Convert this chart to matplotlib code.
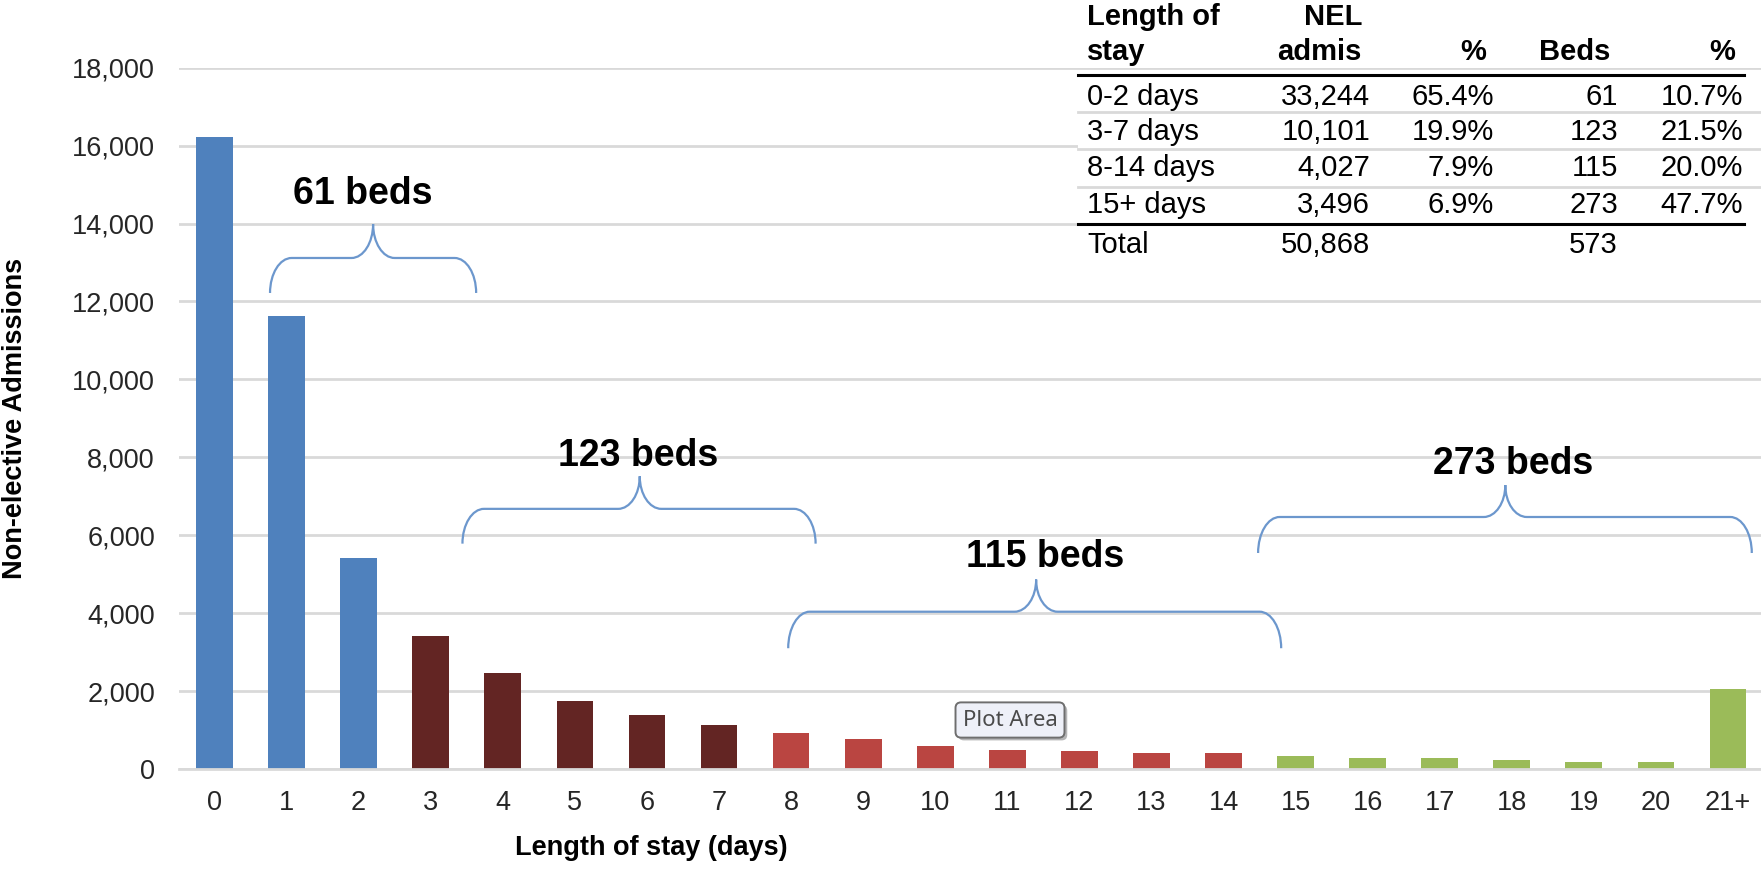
import numpy as np
import matplotlib.pyplot as plt
from matplotlib.path import Path
from matplotlib.patches import PathPatch, Rectangle
from matplotlib.lines import Line2D
import matplotlib.patheffects as pe
from matplotlib.ticker import FuncFormatter

plt.rcParams['font.family'] = ['Liberation Sans', 'DejaVu Sans']

# data
days = ['0', '1', '2', '3', '4', '5', '6', '7', '8', '9', '10',
        '11', '12', '13', '14', '15', '16', '17', '18', '19', '20', '21+']
admissions = [16212, 11624, 5408, 3420, 2459, 1740, 1394, 1134, 920, 760, 600,
              495, 450, 400, 400, 325, 275, 270, 220, 180, 176, 2050]
group_of_day = [0, 0, 0, 1, 1, 1, 1, 1, 2, 2, 2, 2, 2, 2, 2, 3, 3, 3, 3, 3, 3, 3]

los_groups = ['0-2 days', '3-7 days', '8-14 days', '15+ days']
nel_admis = ['33,244', '10,101', '4,027', '3,496']
nel_pct = ['65.4%', '19.9%', '7.9%', '6.9%']
beds = ['61', '123', '115', '273']
beds_pct = ['10.7%', '21.5%', '20.0%', '47.7%']
total_admis = '50,868'
total_beds = '573'

bed_labels = ['61 beds', '123 beds', '115 beds', '273 beds']

# styles
group_colors = ['#4F81BD', '#632523', '#BA4541', '#9BBB59']
brace_color = '#6C97CD'
grid_color = '#D9D9D9'

W, H = 1761, 871
fig = plt.figure(figsize=(W / 100, H / 100), dpi=100)


def px(x, y):
    # pixel position -> figure fraction
    return x / W, 1 - y / H


ax_left, ax_bottom = px(178.5, 769)
ax = fig.add_axes([ax_left, ax_bottom, 1 - ax_left, (769 - 67.7) / H])

x = np.arange(len(days))
colors = [group_colors[g] for g in group_of_day]
ax.bar(x, admissions, width=0.51, color=colors, zorder=2)

ax.set_xlim(-0.5, -0.5 + (W - 178.5) / 72.07)
ax.set_ylim(0, 18000)
ax.set_yticks(np.arange(0, 18001, 2000))
ax.yaxis.set_major_formatter(FuncFormatter(lambda v, p: f'{int(v):,}'))
ax.set_xticks(x)
ax.set_xticklabels(days)
ax.tick_params(axis='both', length=0, labelsize=19.5, labelcolor='#262626')
ax.tick_params(axis='x', pad=15)
ax.tick_params(axis='y', pad=17)
ax.grid(axis='y', color=grid_color, lw=2, zorder=0)
ax.set_axisbelow(True)
for s in ['top', 'right', 'left']:
    ax.spines[s].set_visible(False)
ax.spines['bottom'].set_color(grid_color)
ax.spines['bottom'].set_linewidth(2)

fig.text(*px(651, 848), 'Length of stay (days)', ha='center', va='center',
         fontsize=19.5, fontweight='bold')
fig.text(*px(15, 418), 'Non-elective Admissions', ha='center', va='center',
         rotation=90, fontsize=19.5, fontweight='bold')


def brace(x0, x1, xt, y_end, y_bar, y_tip, rx=0.3):
    k = 0.552
    verts = [
        (x0, y_end),
        (x0, y_end + k * (y_bar - y_end)), (x0 + rx * (1 - k), y_bar), (x0 + rx, y_bar),
        (xt - rx, y_bar),
        (xt - rx * (1 - k), y_bar), (xt, y_tip - k * (y_tip - y_bar)), (xt, y_tip),
        (xt, y_tip - k * (y_tip - y_bar)), (xt + rx * (1 - k), y_bar), (xt + rx, y_bar),
        (x1 - rx, y_bar),
        (x1 - rx * (1 - k), y_bar), (x1, y_end + k * (y_bar - y_end)), (x1, y_end),
    ]
    codes = [Path.MOVETO, Path.CURVE4, Path.CURVE4, Path.CURVE4, Path.LINETO,
             Path.CURVE4, Path.CURVE4, Path.CURVE4, Path.CURVE4, Path.CURVE4,
             Path.CURVE4, Path.LINETO, Path.CURVE4, Path.CURVE4, Path.CURVE4]
    ax.add_patch(PathPatch(Path(verts, codes), fill=False, ec=brace_color,
                           lw=1.6, zorder=3, clip_on=False))


brace(0.77, 3.63, 2.20, 12218, 13116, 13988)
brace(3.44, 8.34, 5.90, 5784, 6677, 7514)
brace(7.96, 14.80, 11.40, 3100, 4037, 4863)
brace(14.48, 21.33, 17.91, 5544, 6468, 7288)

label_pos = [(2.05, 14760), (5.88, 8030), (11.52, 5430), (18.02, 7840)]
for lab, (lx, ly) in zip(bed_labels, label_pos):
    ax.text(lx, ly, lab, ha='center', va='center', fontsize=27,
            fontweight='bold', zorder=4)

# table in the top right corner
fig.patches.append(Rectangle(px(1078, 262), (W - 1078) / W, (262 - 70) / H,
                             transform=fig.transFigure, fc='white', ec='none',
                             zorder=5))
fs = 21
tz = 6
fig.text(*px(1087, 17), 'Length of', ha='left', va='center', fontsize=fs,
         fontweight='bold', zorder=tz)
fig.text(*px(1087, 52), 'stay', ha='left', va='center', fontsize=fs,
         fontweight='bold', zorder=tz)
fig.text(*px(1362, 17), 'NEL', ha='right', va='center', fontsize=fs,
         fontweight='bold', zorder=tz)
for hx, htxt in zip([1362, 1486, 1610, 1735], ['admis', '%', 'Beds', '%']):
    fig.text(*px(hx, 52), htxt, ha='right', va='center', fontsize=fs,
             fontweight='bold', zorder=tz)

row_y = [97, 132, 168, 205]
for i, ry in enumerate(row_y):
    fig.text(*px(1087, ry), los_groups[i], ha='left', va='center', fontsize=fs, zorder=tz)
    for cx, col in zip([1370, 1494, 1618, 1743], [nel_admis, nel_pct, beds, beds_pct]):
        fig.text(*px(cx, ry), col[i], ha='right', va='center', fontsize=fs, zorder=tz)
fig.text(*px(1087, 245), 'Total', ha='left', va='center', fontsize=fs, zorder=tz)
fig.text(*px(1370, 245), total_admis, ha='right', va='center', fontsize=fs, zorder=tz)
fig.text(*px(1618, 245), total_beds, ha='right', va='center', fontsize=fs, zorder=tz)

for ly in [112, 149, 187]:
    (xa, ya), (xb, yb) = px(1078, ly), px(W, ly)
    fig.lines.append(Line2D([xa, xb], [ya, yb], transform=fig.transFigure,
                            color=grid_color, lw=2, zorder=tz))
for ly in [75, 224]:
    (xa, ya), (xb, yb) = px(1078, ly), px(1744, ly)
    fig.lines.append(Line2D([xa, xb], [ya, yb], transform=fig.transFigure,
                            color='black', lw=2.2, zorder=tz))

# tooltip left in the screenshot
tip = fig.text(*px(1010, 720), 'Plot Area', ha='center', va='center', fontsize=16,
               color='#4a4a4a', family='Noto Sans', zorder=7,
               bbox=dict(boxstyle='round,pad=0.32,rounding_size=0.25', fc='#EEF0F8',
                         ec='#6E6E6E', lw=1.4))
tip.get_bbox_patch().set_path_effects([pe.SimplePatchShadow(offset=(2, -2), alpha=0.4),
                                       pe.Normal()])

fig.savefig('out.png', dpi=100)
